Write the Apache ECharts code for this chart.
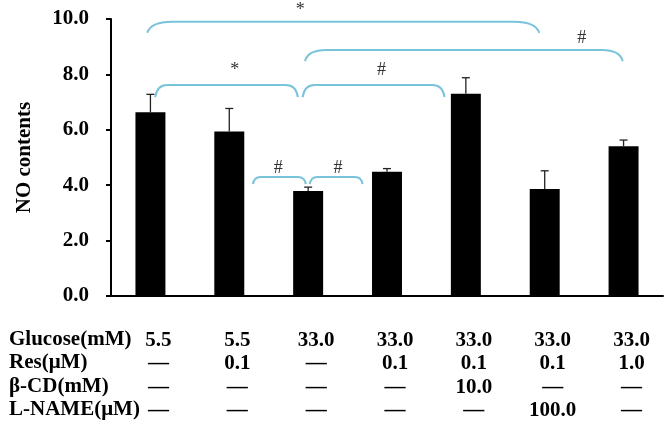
<!DOCTYPE html>
<html>
<head>
<meta charset="utf-8">
<script src="https://cdn.jsdelivr.net/npm/echarts@6/dist/echarts.min.js"></script>
<style>html,body{margin:0;padding:0;background:#fff}#c{width:670px;height:438px}</style>
</head>
<body>
<div id="c"></div>
<script>
// ---- data ----
var groups = ['G1','G2','G3','G4','G5','G6','G7'];
var noContents = [6.63, 5.94, 3.79, 4.49, 7.30, 3.86, 5.41];
var errorTop = [7.28, 6.77, 3.93, 4.60, 7.88, 4.52, 5.63];
var yTicks = [0, 2, 4, 6, 8, 10];
var rowNames = ['Glucose(mM)', 'Res(\u03bcM)', '\u03b2-CD(mM)', 'L-NAME(\u03bcM)'];
var glucose = ['5.5', '5.5', '33.0', '33.0', '33.0', '33.0', '33.0'];
var res = ['\u2014', '0.1', '\u2014', '0.1', '0.1', '0.1', '1.0'];
var betaCD = ['\u2014', '\u2014', '\u2014', '\u2014', '10.0', '\u2014', '\u2014'];
var lName = ['\u2014', '\u2014', '\u2014', '\u2014', '\u2014', '100.0', '\u2014'];
// significance brackets: [fromGroup, toGroup, lineValue, tipValue, mark, markGroup, markValue]
var brackets = [
  [-0.04, 4.93, 9.90, 9.50, '*', 1.90, 10.32],
  [1.96, 5.99, 8.88, 8.48, '#', 5.47, 9.31],
  [0.06, 1.87, 7.62, 7.18, '*', 1.07, 8.16],
  [1.93, 3.73, 7.62, 7.18, '#', 2.93, 8.16],
  [1.30, 1.97, 4.30, 4.04, '#', 1.62, 4.62],
  [2.02, 2.69, 4.30, 4.04, '#', 2.38, 4.62]
];

var serif = 'Liberation Serif';
var rows = [glucose, res, betaCD, lName];
var chart = echarts.init(document.getElementById('c'));
var gridTop = 19, gridBottom = 142, gridLeft = 111, gridRight = 7;
var lineH = 23.3;

var option = {
  animation: false,
  backgroundColor: '#fff',
  grid: {left: gridLeft, right: gridRight, top: gridTop, bottom: gridBottom},
  xAxis: [{
    type: 'category',
    data: groups,
    axisLine: {lineStyle: {color: '#000', width: 2}},
    axisTick: {inside: true, length: 5, lineStyle: {color: '#000', width: 1.5}},
    axisLabel: {
      margin: 33,
      interval: 0,
      padding: [0, 0, 0, 16],
      fontFamily: serif, fontWeight: 'bold', fontSize: 21, color: '#000',
      lineHeight: lineH,
      formatter: function (v, i) {
        return rows.map(function (r) { return r[i]; }).join('\n');
      }
    }
  }, {
    type: 'value', min: -0.5, max: 6.5, show: false
  }],
  yAxis: {
    type: 'value', min: 0, max: 10, interval: 2,
    name: 'NO contents', nameLocation: 'middle', nameGap: 76,
    nameTextStyle: {fontFamily: serif, fontWeight: 'bold', fontSize: 21, color: '#000'},
    axisLine: {show: true, onZero: false, lineStyle: {color: '#000', width: 2}},
    axisTick: {show: true, length: 5, lineStyle: {color: '#000', width: 2}},
    splitLine: {show: false},
    axisLabel: {
      margin: 22, fontFamily: serif, fontWeight: 'bold', fontSize: 21, color: '#000',
      formatter: function (v) { return v.toFixed(1); }
    }
  },
  graphic: rowNames.map(function (n, k) {
    return {
      type: 'text', left: 9, top: 329 + k * lineH,
      style: {text: n, font: 'bold 21px "' + serif + '"', fill: '#000'}
    };
  }),
  series: [{
    type: 'bar',
    data: noContents,
    barWidth: '38%',
    itemStyle: {color: '#000'}
  }, {
    type: 'custom',
    xAxisIndex: 0,
    data: noContents.map(function (v, i) { return [i, v, errorTop[i]]; }),
    renderItem: function (params, api) {
      var b = api.coord([api.value(0), api.value(1)]);
      var t = api.coord([api.value(0), api.value(2)]);
      var st = {stroke: '#222', lineWidth: 1.3};
      return {type: 'group', children: [
        {type: 'line', shape: {x1: b[0], y1: b[1], x2: t[0], y2: t[1]}, style: st},
        {type: 'line', shape: {x1: t[0] - 4, y1: t[1], x2: t[0] + 4, y2: t[1]}, style: st}
      ]};
    },
    z: 3
  }, {
    type: 'custom',
    xAxisIndex: 1,
    clip: false,
    data: brackets,
    renderItem: function (params, api) {
      var l = api.coord([api.value(0), api.value(2)]);
      var r = api.coord([api.value(1), api.value(2)]);
      var tip = api.coord([api.value(0), api.value(3)]);
      var m = api.coord([api.value(5), api.value(6)]);
      var w = r[0] - l[0];
      var rad = Math.min(25, 5 + w * 0.05);
      var y = l[1], ty = tip[1];
      var d = 'M' + l[0] + ' ' + ty +
        ' Q' + (l[0] + rad * 0.15) + ' ' + y + ' ' + (l[0] + rad) + ' ' + y +
        ' L' + (r[0] - rad) + ' ' + y +
        ' Q' + (r[0] - rad * 0.15) + ' ' + y + ' ' + r[0] + ' ' + ty;
      return {type: 'group', children: [
        {type: 'path', shape: {pathData: d}, style: {stroke: '#79c3db', lineWidth: 2, fill: null}},
        {type: 'text', style: {text: brackets[params.dataIndex][4], x: m[0], y: m[1],
          textAlign: 'center', textVerticalAlign: 'middle',
          font: '18px "' + serif + '"', fill: '#333'}}
      ]};
    },
    z: 4
  }]
};
chart.setOption(option);
</script>
</body>
</html>
